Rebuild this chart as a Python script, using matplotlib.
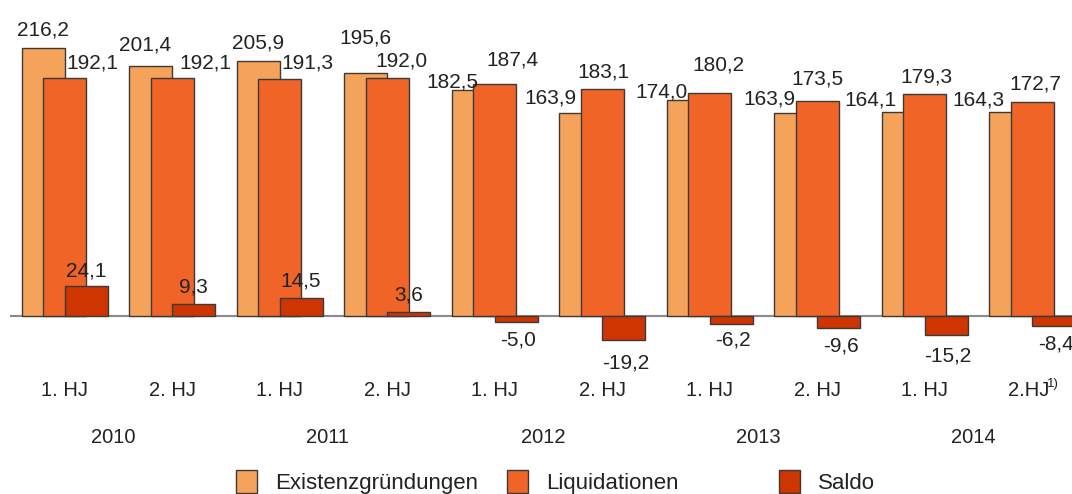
import matplotlib.pyplot as plt
from matplotlib.patches import Patch
from matplotlib.transforms import blended_transform_factory

#############################
### Data ###
#############################

halves = ["1. HJ", "2. HJ", "1. HJ", "2. HJ", "1. HJ", "2. HJ", "1. HJ", "2. HJ", "1. HJ", "2.HJ"]
years = ["2010", "2011", "2012", "2013", "2014"]

gruendungen = [216.2, 201.4, 205.9, 195.6, 182.5, 163.9, 174.0, 163.9, 164.1, 164.3]
liquidationen = [192.1, 192.1, 191.3, 192.0, 187.4, 183.1, 180.2, 173.5, 179.3, 172.7]
saldo = [24.1, 9.3, 14.5, 3.6, -5.0, -19.2, -6.2, -9.6, -15.2, -8.4]

#############################
### Label placement (pixels: shift of label centre, gap above/below bar) ###
#############################

gruend_dx = [0, -5, 0, 0, -21, -30, -27, -26, -33, -32]
gruend_gap = [12, 16, 12, 30, 2, 9, 3, 8, 7, 7]
liqui_dx = [28, 33, 28, 14, 18, 1, 9, 0, 2, 3]
liqui_gap = [9, 9, 10, 11, 18, 11, 22, 16, 11, 12]
saldo_gap = [10, 12, 12, 11, 8, 14, 7, 9, 12, 8]

#############################
### Styles ###
#############################

c_gruend = "#F5A25B"
c_liqui = "#F06428"
c_saldo = "#CE3500"
edge = "#3a3a3a"
plt.rcParams['font.family'] = ['Liberation Sans', 'DejaVu Sans']
fs = 15
txt = "#222222"
PT = 0.72  # points per pixel at dpi 100

def fmt(v):
    return "{:.1f}".format(v).replace(".", ",")

fig = plt.figure(figsize=(10.72, 4.94), dpi=100)
ax = fig.add_axes([0, 0, 1, 1])
ax.set_xlim(-0.6, 9.372)
ax.set_ylim(-143.5, 254.8)
ax.axis("off")

w = 0.4
off = 0.2
x = list(range(len(halves)))

ax.axhline(0, xmin=0.01, xmax=1, color="#8a8a8a", lw=1.5, zorder=1)

ax.bar([i - off for i in x], gruendungen, w, color=c_gruend, edgecolor=edge, lw=1, zorder=2)
ax.bar(x, liquidationen, w, color=c_liqui, edgecolor=edge, lw=1, zorder=3)
ax.bar([i + off for i in x], saldo, w, color=c_saldo, edgecolor=edge, lw=1, zorder=4)

# value labels
for i in x:
    ax.annotate(fmt(gruendungen[i]), (i - off, gruendungen[i]), xytext=(gruend_dx[i] * PT, gruend_gap[i] * PT),
                textcoords="offset points", ha="center", va="baseline", fontsize=fs, color=txt, zorder=5)
    ax.annotate(fmt(liquidationen[i]), (i, liquidationen[i]), xytext=(liqui_dx[i] * PT, liqui_gap[i] * PT),
                textcoords="offset points", ha="center", va="baseline", fontsize=fs, color=txt, zorder=5)
    s = saldo[i]
    if s >= 0:
        ax.annotate(fmt(s), (i + off, s), xytext=(0, saldo_gap[i] * PT), textcoords="offset points",
                    ha="center", va="baseline", fontsize=fs, color=txt, zorder=5)
    else:
        ax.annotate(fmt(s), (i + off, s), xytext=(2 * PT, -saldo_gap[i] * PT), textcoords="offset points",
                    ha="center", va="top", fontsize=fs, color=txt, zorder=5)

# category labels below the baseline
tr = blended_transform_factory(ax.transData, ax.transAxes)
for i, lab in enumerate(halves):
    xi = i if i < len(halves) - 1 else i - 0.035
    ax.text(xi, 1 - 391 / 494, lab, ha="center", va="center", fontsize=fs - 0.5, color=txt, transform=tr)
ax.text(len(halves) - 1 + 0.14, 1 - 384 / 494, "1)", ha="left", va="center", fontsize=9.5, color=txt,
        transform=tr)
for k, yr in enumerate(years):
    ax.text(2 * k + 0.45, 1 - 437 / 494, yr, ha="center", va="center", fontsize=fs - 0.5, color=txt,
            transform=tr)

# legend entries are spread unevenly, so place them one by one
entries = [("Existenzgründungen", c_gruend, 236), ("Liquidationen", c_liqui, 507), ("Saldo", c_saldo, 779)]
for name, col, px in entries:
    fig.legend(handles=[Patch(facecolor=col, edgecolor=edge, lw=1)], labels=[name],
               loc="center left", bbox_to_anchor=(px / 1072, 1 - 482 / 494), frameon=False,
               fontsize=16, handlelength=0.95, handleheight=1.2, handletextpad=0.8,
               borderpad=0, borderaxespad=0, labelcolor=txt)

fig.savefig("out.png", dpi=100)
